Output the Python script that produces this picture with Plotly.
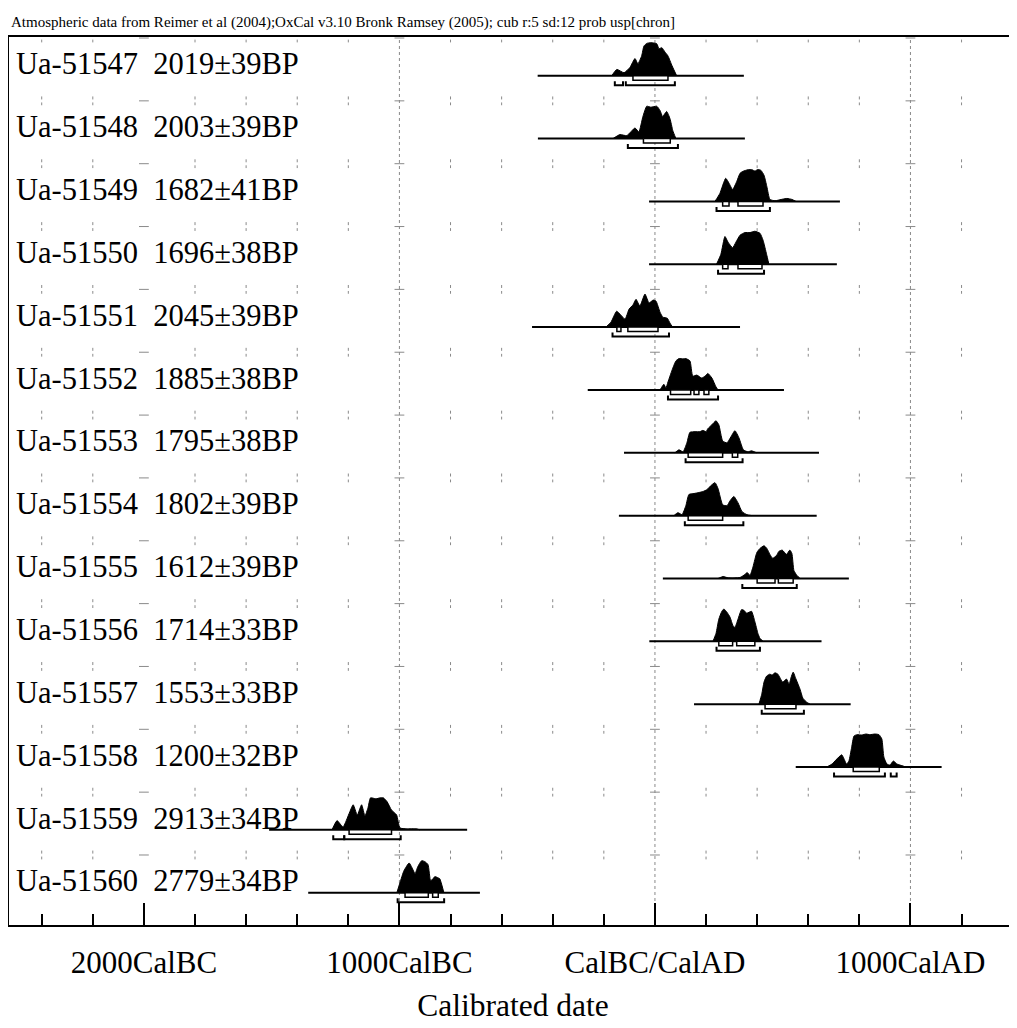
import plotly.graph_objects as go

lab_codes = ["Ua-51547", "Ua-51548", "Ua-51549", "Ua-51550", "Ua-51551", "Ua-51552", "Ua-51553",
             "Ua-51554", "Ua-51555", "Ua-51556", "Ua-51557", "Ua-51558", "Ua-51559", "Ua-51560"]
bp_age = [2019, 2003, 1682, 1696, 2045, 1885, 1795, 1802, 1612, 1714, 1553, 1200, 2913, 2779]
bp_err = [39, 39, 41, 38, 39, 38, 38, 39, 39, 33, 33, 32, 34, 34]

# calendar span drawn for each date (years, BC negative)
span_start = [-459, -458, -23, -23, -481, -263, -121, -141, 31, -22, 153, 551, -1510, -1357]
span_end = [348, 352, 724, 712, 333, 505, 642, 633, 759, 652, 766, 1122, -735, -685]

# calibrated probability curves (relative to the peak)
yr_51547 = [-169, -149, -121, -98, -78, -67, -52, -43, -32, -16, 7, 16, 27, 39, 51, 67, 85]
p_51547 = [0, 0.19, 0.09, 0.25, 0.52, 0.36, 0.6, 0.9, 0.98, 1.0, 0.97, 0.82, 0.85, 0.72, 0.6, 0.3, 0]
yr_51548 = [-164, -137, -110, -78, -63, -47, -32, -16, 7, 20, 30, 46, 59, 70, 82]
p_51548 = [0, 0.12, 0.09, 0.32, 0.2, 0.67, 0.98, 0.95, 0.98, 0.85, 0.67, 0.82, 0.6, 0.24, 0]
yr_51549 = [235, 254, 277, 290, 304, 320, 333, 344, 364, 380, 391, 403, 415, 427, 438, 450, 470, 501, 517, 536, 552]
p_51549 = [0, 0.24, 0.7, 0.55, 0.36, 0.6, 0.85, 0.91, 0.96, 0.96, 0.92, 0.97, 0.94, 0.79, 0.45, 0.06, 0.02, 0.07, 0.09, 0.06, 0]
yr_51550 = [241, 258, 274, 286, 304, 317, 333, 352, 372, 391, 411, 423, 437, 446]
p_51550 = [0, 0.3, 0.84, 0.67, 0.5, 0.67, 0.88, 0.96, 0.96, 1.0, 0.94, 0.73, 0.3, 0]
yr_51551 = [-192, -172, -150, -133, -117, -101, -86, -74, -59, -39, -23, -7, 4, 20, 31, 48, 59, 69]
p_51551 = [0, 0.15, 0.48, 0.36, 0.24, 0.55, 0.67, 0.84, 0.64, 1.0, 0.73, 0.82, 0.79, 0.45, 0.3, 0.27, 0.12, 0]
yr_51552 = [20, 35, 43, 51, 67, 82, 94, 110, 121, 137, 148, 164, 183, 196, 207, 223, 239, 247]
p_51552 = [0, 0.17, 0.06, 0.24, 0.6, 0.88, 0.95, 0.94, 0.95, 0.88, 0.42, 0.45, 0.36, 0.42, 0.5, 0.36, 0.09, 0]
yr_51553 = [78, 94, 110, 125, 137, 157, 176, 188, 200, 207, 223, 239, 250, 265, 282, 297, 313, 329, 346, 364, 378, 398]
p_51553 = [0, 0.09, 0.03, 0.3, 0.62, 0.64, 0.64, 0.68, 0.64, 0.73, 0.85, 0.97, 0.85, 0.36, 0.3, 0.48, 0.67, 0.45, 0.09, 0.03, 0.06, 0]
yr_51554 = [74, 90, 106, 121, 133, 153, 172, 188, 204, 219, 235, 247, 265, 282, 294, 309, 325, 341, 360, 380]
p_51554 = [0, 0.09, 0.03, 0.3, 0.64, 0.67, 0.7, 0.73, 0.79, 0.91, 1.0, 0.82, 0.33, 0.3, 0.45, 0.58, 0.39, 0.12, 0.03, 0]
yr_51555 = [247, 267, 286, 333, 352, 361, 372, 384, 399, 411, 427, 438, 450, 461, 476, 485, 498, 515, 528, 536, 544, 556, 568]
p_51555 = [0, 0.06, 0.02, 0.03, 0.12, 0.18, 0.09, 0.36, 0.79, 0.91, 0.99, 0.91, 0.73, 0.61, 0.7, 0.82, 0.86, 0.73, 0.86, 0.76, 0.24, 0.09, 0]
yr_51556 = [227, 239, 250, 262, 270, 282, 294, 305, 313, 325, 339, 348, 359, 368, 378, 391, 403, 411, 423]
p_51556 = [0, 0.24, 0.67, 0.91, 0.98, 0.88, 0.73, 0.48, 0.42, 0.67, 0.96, 0.94, 0.85, 0.88, 0.91, 0.6, 0.24, 0.09, 0]
yr_51557 = [407, 418, 427, 437, 450, 458, 470, 481, 500, 515, 525, 532, 541, 552, 568, 579, 594, 607]
p_51557 = [0, 0.3, 0.67, 0.85, 0.91, 0.88, 0.95, 0.91, 0.67, 0.76, 0.6, 0.79, 0.97, 0.76, 0.45, 0.18, 0.06, 0]
yr_51558 = [672, 693, 708, 731, 750, 759, 770, 779, 791, 810, 826, 841, 861, 877, 888, 896, 908, 920, 933, 947, 971, 982]
p_51558 = [0, 0.09, 0.21, 0.37, 0.09, 0.18, 0.6, 0.94, 0.98, 0.97, 1.0, 0.98, 1.0, 0.98, 0.85, 0.3, 0.09, 0.06, 0.18, 0.09, 0.03, 0]
yr_51559 = [-1264, -1244, -1229, -1220, -1207, -1194, -1181, -1165, -1148, -1135, -1123, -1113, -1092, -1076, -1063,
            -1048, -1031, -1011, -998, -972, -933, -920]
p_51559 = [0, 0.28, 0.15, 0.09, 0.3, 0.55, 0.76, 0.45, 0.76, 0.42, 0.67, 0.97, 0.94, 0.97, 0.97,
           0.85, 0.6, 0.45, 0.06, 0.03, 0.03, 0]
yr_51560 = [-1010, -998, -982, -962, -951, -939, -928, -913, -900, -888, -878, -869, -861, -849, -842, -826]
p_51560 = [0, 0.3, 0.67, 0.9, 0.76, 0.58, 0.79, 0.97, 0.94, 0.85, 0.36, 0.42, 0.49, 0.45, 0.42, 0]

# 68.2% (boxes) and 95.4% (brackets) ranges
r68_ranges = [
    [(-86, 51)], [(-45, 60)], [(265, 290), (325, 423)], [(265, 286), (325, 419)],
    [(-149, -133), (-106, 12)], [(61, 140), (153, 172), (192, 211)], [(130, 265), (303, 324)],
    [(130, 265)], [(400, 470), (483, 541)], [(250, 304), (320, 391)], [(431, 552)],
    [(776, 878)], [(-1197, -1031)], [(-978, -887), (-870, -848)],
]
r95_ranges = [
    [(-157, -125), (-114, 78)], [(-106, 90)], [(241, 450)], [(247, 427)],
    [(-166, 55)], [(51, 247)], [(120, 343)], [(117, 346)], [(342, 555)], [(241, 411)],
    [(418, 583)], [(701, 900), (923, 946)], [(-1259, -1216), (-1216, -995)], [(-1007, -825)],
]

tick_vals = [-2000, -1000, 0, 1000]
tick_text = ["2000CalBC", "1000CalBC", "CalBC/CalAD", "1000CalAD"]
minor_vals = list(range(-2400, 1401, 200))

curves = [(yr_51547, p_51547), (yr_51548, p_51548), (yr_51549, p_51549), (yr_51550, p_51550),
          (yr_51551, p_51551), (yr_51552, p_51552), (yr_51553, p_51553), (yr_51554, p_51554),
          (yr_51555, p_51555), (yr_51556, p_51556), (yr_51557, p_51557), (yr_51558, p_51558),
          (yr_51559, p_51559), (yr_51560, p_51560)]

# --- layout constants (pixel based; page body has an 8px margin) ----------
ROW_PX = 62.85
PEAK = 33 / ROW_PX
BOX = 4.5 / ROW_PX
BR_TOP = 5.5 / ROW_PX
BR_BOT = 9.5 / ROW_PX
Y_RANGE = [13.514, -0.616]
FONT = "Liberation Serif, Times New Roman, serif"
GREY = "#8a8a8a"

fig = go.Figure()

# full dotted lines at the thousand-year marks
for t in [-1000, 0, 1000]:
    fig.add_trace(go.Scatter(x=[t, t], y=Y_RANGE, mode="lines",
                             line=dict(color=GREY, width=1, dash="dot"), hoverinfo="skip"))

# small dotted marks every 200 years in each row
gx, gy = [], []
for i in range(len(lab_codes)):
    for t in minor_vals:
        if t % 1000 == 0:
            continue
        gx += [t, t, None]
        gy += [i - 0.67, i - 0.53, None]
fig.add_trace(go.Scatter(x=gx, y=gy, mode="lines", line=dict(color=GREY, width=1, dash="dot"),
                         hoverinfo="skip"))
cx, cy = [], []
for i in range(len(lab_codes)):
    for t in tick_vals:
        cx.append(t)
        cy.append(i - 0.6)
fig.add_trace(go.Scatter(x=cx, y=cy, mode="markers",
                         marker=dict(symbol="line-ew", size=7, line=dict(color=GREY, width=1)),
                         hoverinfo="skip"))

for i, (yrs, prob) in enumerate(curves):
    # span line
    fig.add_trace(go.Scatter(x=[span_start[i], span_end[i]], y=[i, i], mode="lines",
                             line=dict(color="black", width=2), hoverinfo="skip"))
    # probability distribution
    fig.add_trace(go.Scatter(x=yrs, y=[i - PEAK * p for p in prob], mode="lines",
                             fill="toself", fillcolor="black",
                             line=dict(color="black", width=1, shape="spline", smoothing=0.5),
                             hoverinfo="skip"))
    # 95.4% brackets
    bx, by = [], []
    for a, b in r95_ranges[i]:
        bx += [a, a, b, b, None]
        by += [i + BR_TOP, i + BR_BOT, i + BR_BOT, i + BR_TOP, None]
    fig.add_trace(go.Scatter(x=bx, y=by, mode="lines", line=dict(color="black", width=2),
                             hoverinfo="skip"))
    # 68.2% boxes
    for a, b in r68_ranges[i]:
        fig.add_trace(go.Scatter(x=[a, a, b, b, a], y=[i, i + BOX, i + BOX, i, i], mode="lines",
                                 fill="toself", fillcolor="white",
                                 line=dict(color="black", width=1.5), hoverinfo="skip"))
    # label
    fig.add_annotation(x=-2510, y=i - 0.18, xref="x", yref="y", xanchor="left", yanchor="middle",
                       text=f"{lab_codes[i]}\u00a0\u00a0{bp_age[i]}±{bp_err[i]}BP",
                       showarrow=False, font=dict(family=FONT, size=30.5, color="black"))

fig.add_annotation(
    x=0.0, y=1.0158, xref="paper", yref="paper", xanchor="left", yanchor="middle",
    text="Atmospheric data from Reimer et al (2004);OxCal v3.10 Bronk Ramsey (2005); cub r:5 sd:12 prob usp[chron]",
    showarrow=False, font=dict(family=FONT, size=15, color="black"))

fig.update_layout(
    width=1009, height=1020,
    margin=dict(l=1, r=0, t=29, b=103),
    plot_bgcolor="white", paper_bgcolor="white",
    showlegend=False,
    xaxis=dict(
        range=[-2528, 1417], showline=True, linecolor="black", linewidth=2, mirror=True,
        showgrid=False, zeroline=False,
        tickmode="array", tickvals=tick_vals, ticktext=tick_text,
        ticks="inside", ticklen=22, tickwidth=2, tickcolor="black",
        tickfont=dict(family=FONT, size=31, color="black"), ticklabelstandoff=9,
        minor=dict(tickmode="array", tickvals=minor_vals, ticks="inside", ticklen=11,
                   tickwidth=2, tickcolor="black", showgrid=False),
        title=dict(text="Calibrated date", font=dict(family=FONT, size=31.5, color="black"), standoff=15),
    ),
    yaxis=dict(
        range=Y_RANGE, showline=True, linecolor="black", linewidth=2,
        showgrid=False, zeroline=False, showticklabels=False, ticks="",
    ),
)

fig.write_html("out.html")
